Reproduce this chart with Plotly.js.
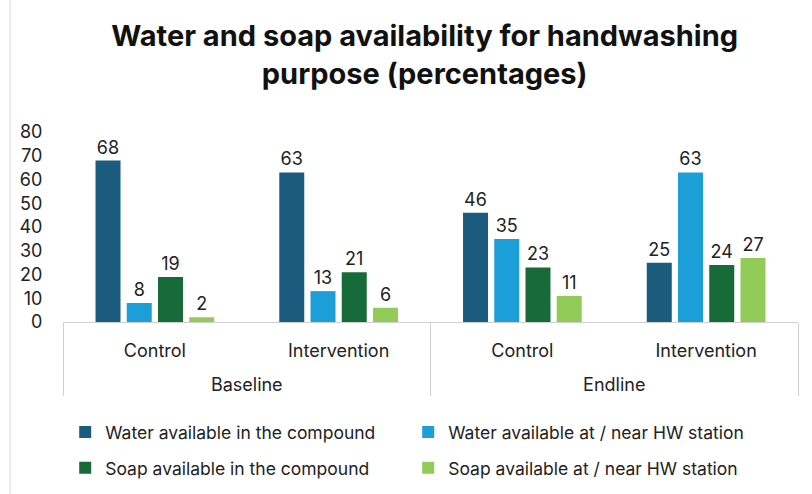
<!DOCTYPE html>
<html><head><meta charset="utf-8">
<script src="https://cdn.plot.ly/plotly-3.0.1.min.js"></script>
<style>body{margin:0;background:#fff}#c{width:812px;height:494px}</style>
</head><body><div id="c"></div>
<script>
const phases = ["Baseline","Baseline","Endline","Endline"];
const arms = ["Control","Intervention","Control","Intervention"];
const seriesNames = ["Water available in the compound","Water available at / near HW station","Soap available in the compound","Soap available at / near HW station"];
const waterCompound = [68,63,46,25];
const waterStation = [8,13,35,63];
const soapCompound = [19,21,23,24];
const soapStation = [2,6,11,27];
const colors = ["#1B5C7E","#1C9FD9","#176B38","#92CB57"];
const yTicks = [0,10,20,30,40,50,60,70,80];

const vals = [waterCompound, waterStation, soapCompound, soapStation];
const legendOf = ["legend","legend","legend2","legend2"];
const font = "Inter, Roboto, 'Liberation Sans', sans-serif";
const armLabels = arms.map(a => a + "<br>&nbsp;");
const data = vals.map((v,i)=>({
  type:"bar", name:seriesNames[i], x:[phases, armLabels], y:v,
  marker:{color:colors[i]}, text:v.map(String), textposition:"outside",
  textfont:{size:18,color:"#222",family:font}, cliponaxis:false,
  legend:legendOf[i]
}));
const legBase = {orientation:"h", xanchor:"left", yanchor:"middle",
  entrywidth:298, entrywidthmode:"pixels", font:{size:17.5,family:font,color:"#222"},
  traceorder:"normal", itemwidth:30, bgcolor:"rgba(0,0,0,0)"};
const layout = {
  width:812, height:494,
  margin:{l:63,r:14,t:132,b:172, autoexpand:false},
  paper_bgcolor:"#fff", plot_bgcolor:"#fff",
  font:{family:font,color:"#222",size:18},
  title:{text:"<b>Water and soap availability for handwashing<br>purpose (percentages)</b>",
    font:{size:29,family:font,color:"#111"}, x:0.523, xanchor:"center",
    yref:"container", y:0.907, yanchor:"top"},
  barmode:"group", bargap:0.32, bargroupgap:0.2,
  showlegend:true,
  legend:Object.assign({}, legBase, {x:0.003, y:-0.579}),
  legend2:Object.assign({}, legBase, {x:0.003, y:-0.768}),
  xaxis:{type:"multicategory", showline:true, linecolor:"#d0d0d0", linewidth:1,
    showdividers:true, dividercolor:"#d0d0d0", dividerwidth:1, ticklabelstandoff:12,
    tickfont:{size:18,color:"#222"}, ticks:"", showgrid:false, automargin:false},
  yaxis:{range:[0,80], tickvals:yTicks, showgrid:false, zeroline:false, showline:false,
    ticks:"outside", ticklen:16, tickcolor:"rgba(0,0,0,0)",
    tickfont:{size:18,color:"#222"}, automargin:false},
  shapes:[{type:"line", xref:"paper", yref:"paper", x0:-0.072, x1:-0.072, y0:-1, y1:2,
    line:{color:"#d9d9d9", width:1}}]
};
Plotly.newPlot("c", data, layout, {displayModeBar:false, staticPlot:true});
</script></body></html>
